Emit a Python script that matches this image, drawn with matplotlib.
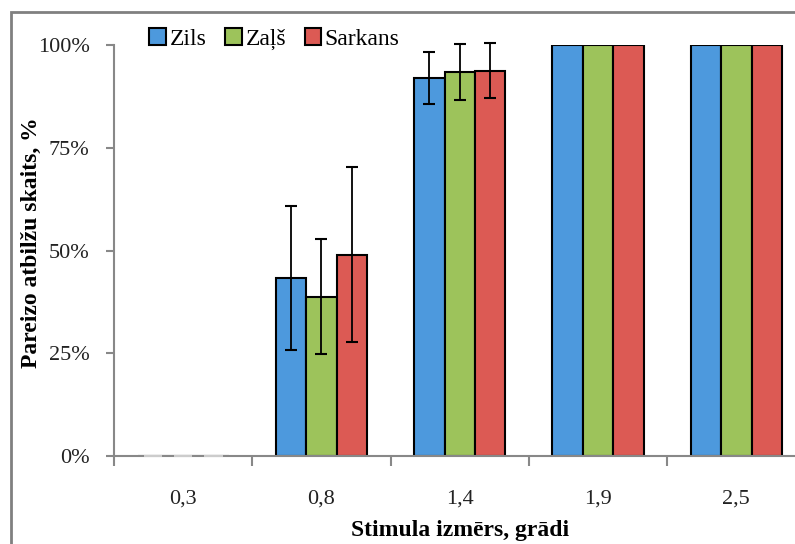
import numpy as np
import matplotlib.pyplot as plt
from matplotlib.patches import Rectangle
from matplotlib.font_manager import FontProperties

plt.rcParams['font.family'] = 'serif'
plt.rcParams['font.serif'] = ['Liberation Serif', 'DejaVu Serif']

categories = ['0,3', '0,8', '1,4', '1,9', '2,5']
series = ['Zils', 'Zaļš', 'Sarkans']
colors = ['#4d99dd', '#9dc35b', '#dc5a54']
zils = [0.0, 0.434, 0.919, 1.0, 1.0]
zals = [0.0, 0.388, 0.934, 1.0, 1.0]
sarkans = [0.0, 0.490, 0.937, 1.0, 1.0]
zils_err = [0.0, 0.175, 0.063, 0.0, 0.0]
zals_err = [0.0, 0.140, 0.068, 0.0, 0.0]
sarkans_err = [0.0, 0.212, 0.067, 0.0, 0.0]

values = [zils, zals, sarkans]
errors = [zils_err, zals_err, sarkans_err]

fig = plt.figure(figsize=(7.95, 5.44), dpi=100)
ax = fig.add_axes([114/795, 88/544, 691.5/795, 411/544])

x = np.arange(len(categories)) + 0.5
w = 0.22
for i in range(3):
    pos = x + (i - 1) * w
    ax.bar(pos, values[i], w, color=colors[i], edgecolor='black', linewidth=1.5,
           label=series[i], zorder=2)
    # zero-height bars show as faint dashes on the axis
    z = np.array(values[i]) == 0
    ax.hlines(np.zeros(z.sum()), pos[z] - w * 0.3, pos[z] + w * 0.3,
              color='#cccccc', linewidth=1.5, zorder=4, clip_on=False)
    err = np.array(errors[i])
    m = err > 0
    ax.errorbar(pos[m], np.array(values[i])[m], yerr=err[m], fmt='none',
                ecolor='black', elinewidth=1.3, capsize=4, capthick=1.5,
                zorder=3, clip_on=False)

ax.set_xlim(0, len(categories))
ax.set_ylim(0, 1)
ax.set_yticks([0, 0.25, 0.5, 0.75, 1.0])
ax.set_yticklabels(['0%', '25%', '50%', '75%', '100%'])
ax.set_xticks(np.arange(len(categories) + 1))
ax.set_xticklabels([])
ax.set_xticks(x, minor=True)
ax.set_xticklabels(categories, minor=True)
ax.tick_params(axis='x', which='minor', length=0, pad=24, labelsize=16, labelcolor='#222222')
ax.tick_params(axis='x', which='major', length=7, width=1.5, color='#888888')
ax.tick_params(axis='y', length=6, width=1.5, color='#888888', pad=11.5,
               labelsize=16, labelcolor='#222222')

for s in ['top', 'right']:
    ax.spines[s].set_visible(False)
for s in ['left', 'bottom']:
    ax.spines[s].set_color('#888888')
    ax.spines[s].set_linewidth(1.5)

ax.set_ylabel('Pareizo atbilžu skaits, %', fontsize=17, fontweight='bold')
ax.set_xlabel('Stimula izmērs, grādi', fontsize=17, fontweight='bold')
ax.yaxis.set_label_coords(-0.104, 0.52)
ax.xaxis.set_label_coords(0.5, -0.155)

leg = fig.legend(loc='upper left', bbox_to_anchor=(140/795, 1 - 19/544), ncol=3, frameon=False,
                 prop=FontProperties(family='Liberation Serif', size=17),
                 handlelength=0.7, handleheight=0.7, handletextpad=0.15,
                 columnspacing=0.8, borderaxespad=0)

fig.patches.append(Rectangle((11/795, -0.1), 1.2, 1.1 - 12/544, transform=fig.transFigure,
                             fill=False, edgecolor='#808080', linewidth=2))

fig.savefig('out.png', dpi=100)
